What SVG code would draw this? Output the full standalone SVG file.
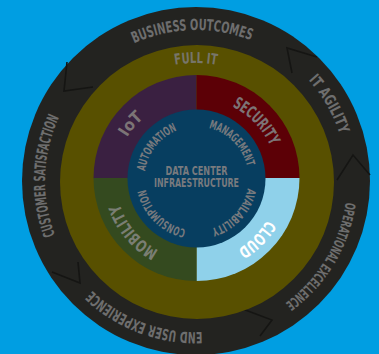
<svg xmlns="http://www.w3.org/2000/svg" width="379" height="354" viewBox="0 0 379 354">
<style>
.t{font-family:"DejaVu Sans Condensed","DejaVu Sans",sans-serif;font-weight:bold;fill:#6e6e6e;}
.o{font-size:15.5px;}
.q{font-size:16.5px;fill:#7c7476;}
.i{font-size:12px;fill:#787a7e;}
.chev{fill:none;stroke:#151513;stroke-width:1.6;stroke-linejoin:miter;}
</style>
<defs>
<path id="pBus" d="M46.7,158.7 A151,151 0 0 1 344.0,150.9"/>
<path id="pIta" d="M144.4,39.1 A151,151 0 0 1 293.1,296.7"/>
<path id="pOpe" d="M295.1,67.0 A151,151 0 0 1 141.9,322.0"/>
<path id="pEnd" d="M326.0,257.9 A151,151 0 0 1 47.6,153.2"/>
<path id="pCus" d="M164.6,328.7 A151,151 0 0 1 175.0,31.5"/>
<path id="pFull" d="M79.8,160.5 A118,118 0 0 1 312.2,160.5"/>
<path id="pIot" d="M134.5,231.1 A81,81 0 0 1 237.0,108.9"/>
<path id="pSec" d="M151.2,111.9 A81,81 0 0 1 262.0,226.6"/>
<path id="pClo" d="M262.9,132.5 A81,81 0 0 1 150.0,245.4"/>
<path id="pMob" d="M237.0,249.1 A81,81 0 0 1 134.5,126.9"/>
<path id="pAut" d="M157.9,213.3 A52,52 0 0 1 220.9,132.6"/>
<path id="pMan" d="M166.7,135.9 A52,52 0 0 1 239.1,208.3"/>
<path id="pAva" d="M237.5,146.5 A52,52 0 0 1 168.9,222.6"/>
<path id="pCon" d="M226.3,221.1 A52,52 0 0 1 153.9,148.7"/>
</defs>
<rect width="379" height="354" fill="#009ee2"/>
<g id="outer-ring">
<circle cx="196" cy="181" r="174" fill="#232320"/>
</g>
<g id="connectors">
<polyline class="chev" points="67,62 64,91 93,87"/>
<polyline class="chev" points="317,57 287,48 292,73"/>
<polyline class="chev" points="370,175 353,155 337,180"/>
<polyline class="chev" points="260,336 272,320 240,308"/>
<polyline class="chev" points="52,272 80,283 78,262"/>
</g>
<g id="business-outcomes"><text class="t o"><textPath href="#pBus" startOffset="50%" text-anchor="middle" textLength="120" lengthAdjust="spacingAndGlyphs">BUSINESS OUTCOMES</textPath></text></g>
<g id="it-agility"><text class="t o"><textPath href="#pIta" startOffset="50%" text-anchor="middle" textLength="63" lengthAdjust="spacingAndGlyphs">IT AGILITY</textPath></text></g>
<g id="operational-excellence"><text class="t o" style="font-size:14px"><textPath href="#pOpe" startOffset="50%" text-anchor="middle" textLength="121" lengthAdjust="spacingAndGlyphs">OPERATIONAL EXCELLENCE</textPath></text></g>
<g id="end-user-experience"><text class="t o"><textPath href="#pEnd" startOffset="50%" text-anchor="middle" textLength="121" lengthAdjust="spacingAndGlyphs">END USER EXPERIENCE</textPath></text></g>
<g id="customer-satisfaction"><text class="t o"><textPath href="#pCus" startOffset="50%" text-anchor="middle" textLength="121" lengthAdjust="spacingAndGlyphs">CUSTOMER SATISFACTION</textPath></text></g>
<g id="full-it">
<circle cx="197" cy="182" r="137" fill="#585000"/>
<text class="t" style="font-size:15px;fill:#77756a"><textPath href="#pFull" startOffset="50%" text-anchor="middle" textLength="42" lengthAdjust="spacingAndGlyphs">FULL IT</textPath></text>
</g>
<g id="iot">
<path d="M196.5,178 L93.5,178 A103,103 0 0 1 196.5,75 Z" fill="#3a2041"/>
<text class="t q"><textPath href="#pIot" startOffset="50%" text-anchor="middle" textLength="26" lengthAdjust="spacingAndGlyphs">IoT</textPath></text>
</g>
<g id="security">
<path d="M196.5,178 L196.5,75 A103,103 0 0 1 299.5,178 Z" fill="#5c0006"/>
<text class="t q"><textPath href="#pSec" startOffset="50%" text-anchor="middle" textLength="56" lengthAdjust="spacingAndGlyphs">SECURITY</textPath></text>
</g>
<g id="cloud">
<path d="M196.5,178 L299.5,178 A103,103 0 0 1 196.5,281 Z" fill="#8fd1ea"/>
<text class="t q" style="fill:#ffffff"><textPath href="#pClo" startOffset="50%" text-anchor="middle" textLength="42" lengthAdjust="spacingAndGlyphs">CLOUD</textPath></text>
</g>
<g id="mobility">
<path d="M196.5,178 L196.5,281 A103,103 0 0 1 93.5,178 Z" fill="#344a1f"/>
<text class="t q" style="fill:#7a7e74"><textPath href="#pMob" startOffset="50%" text-anchor="middle" textLength="62" lengthAdjust="spacingAndGlyphs">MOBILITY</textPath></text>
</g>
<g id="data-center">
<circle cx="196.5" cy="178.5" r="69" fill="#073e60"/>
<text class="t i" x="196.5" y="175" text-anchor="middle" textLength="62" lengthAdjust="spacingAndGlyphs">DATA CENTER</text>
<text class="t i" x="196.5" y="187" text-anchor="middle" textLength="85" lengthAdjust="spacingAndGlyphs">INFRAESTRUCTURE</text>
<text class="t i"><textPath href="#pAut" startOffset="50%" text-anchor="middle" textLength="54" lengthAdjust="spacingAndGlyphs">AUTOMATION</textPath></text>
<text class="t i"><textPath href="#pMan" startOffset="50%" text-anchor="middle" textLength="57" lengthAdjust="spacingAndGlyphs">MANAGEMENT</textPath></text>
<text class="t i"><textPath href="#pAva" startOffset="50%" text-anchor="middle" textLength="57" lengthAdjust="spacingAndGlyphs">AVAILABILITY</textPath></text>
<text class="t i"><textPath href="#pCon" startOffset="50%" text-anchor="middle" textLength="60" lengthAdjust="spacingAndGlyphs">CONSUMPTION</textPath></text>
</g>
</svg>
